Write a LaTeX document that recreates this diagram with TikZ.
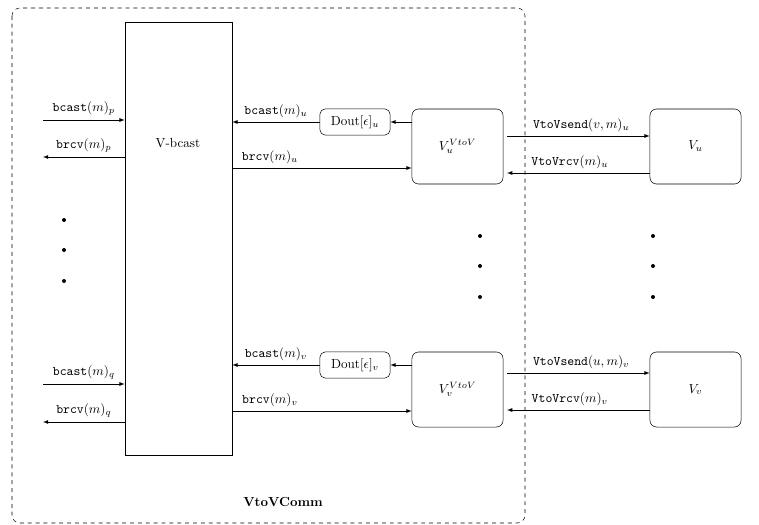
\documentclass[tikz,border=0pt]{standalone}
\usepackage{amsmath,amssymb}
\usepackage{tikz}
\usetikzlibrary{arrows}

\begin{document}
\begin{tikzpicture}[x=0.0268cm,y=-0.0268cm,
  arr/.style={-latex},
  blk/.style={rectangle,draw,rounded corners=5pt,minimum width=2.44cm,minimum height=2.01cm},
  dout/.style={rectangle,draw,rounded corners=4pt,minimum width=1.88cm,minimum height=0.70cm,inner sep=1pt}]
\useasboundingbox (0,0) rectangle (759,525);
% outer component
\draw[dashed,rounded corners=6pt] (12,8) rectangle (525,523);
\path (283,502) node(comm){\textbf{VtoVComm}};
% broadcast block
\path (178.5,238.5) node(vb)[rectangle,draw,minimum width=2.87cm,minimum height=11.6cm]{};
\path (178,143) node(vbtxt){V-bcast};
% rows
\coordinate (ip) at (43,120);
\coordinate (op) at (43,157);
\coordinate (iq) at (43,384);
\coordinate (oq) at (43,422);
\coordinate (ru) at (0,168);
\coordinate (rv) at (0,411);
\coordinate (su) at (0,136);
\coordinate (cu) at (0,173);
\coordinate (sv) at (0,373);
\coordinate (cv) at (0,410);
% left interface
\draw[arr] (ip) -- (ip -| vb.west) node[midway,above]{$\texttt{bcast}(m)_p$};
\draw[arr] (op -| vb.west) -- (op) node[midway,above]{$\texttt{brcv}(m)_p$};
\draw[arr] (iq) -- (iq -| vb.west) node[midway,above]{$\texttt{bcast}(m)_q$};
\draw[arr] (oq -| vb.west) -- (oq) node[midway,above]{$\texttt{brcv}(m)_q$};
\foreach \y in {220,250,281} \fill (64,\y) circle (2);
% upper vehicle u
\path (355,122) node(doutu)[dout]{Dout[$\epsilon$]$_u$};
\path (457.5,146.5) node(vvu)[blk]{$V_u^{VtoV}$};
\path (695.5,146.5) node(vu)[blk]{$V_u$};
\draw[arr] (doutu.west) -- (doutu.west -| vb.east) node[midway,above]{$\texttt{bcast}(m)_u$};
\draw[arr] (doutu.east -| vvu.west) -- (doutu.east);
\draw[arr] (vb.east |- ru) -- (vvu.west |- ru) node[pos=0.21,above]{$\texttt{brcv}(m)_u$};
\draw[arr] ([xshift=1mm]vvu.east |- su) -- (vu.west |- su) node[pos=0.52,above]{$\texttt{VtoVsend}(v,m)_u$};
\draw[arr] (vu.west |- cu) -- ([xshift=1mm]vvu.east |- cu) node[pos=0.56,above]{$\texttt{VtoVrcv}(m)_u$};
\foreach \y in {236,266,297} {\fill (480,\y) circle (2); \fill (653,\y) circle (2);}
% lower vehicle v
\path (355,365) node(doutv)[dout]{Dout[$\epsilon$]$_v$};
\path (457.5,389.5) node(vvv)[blk]{$V_v^{VtoV}$};
\path (695.5,389.5) node(vv)[blk]{$V_v$};
\draw[arr] (doutv.west) -- (doutv.west -| vb.east) node[midway,above]{$\texttt{bcast}(m)_v$};
\draw[arr] (doutv.east -| vvv.west) -- (doutv.east);
\draw[arr] (vb.east |- rv) -- (vvv.west |- rv) node[pos=0.21,above]{$\texttt{brcv}(m)_v$};
\draw[arr] ([xshift=1mm]vvv.east |- sv) -- (vv.west |- sv) node[pos=0.52,above]{$\texttt{VtoVsend}(u,m)_v$};
\draw[arr] (vv.west |- cv) -- ([xshift=1mm]vvv.east |- cv) node[pos=0.56,above]{$\texttt{VtoVrcv}(m)_v$};
\end{tikzpicture}
\end{document}
